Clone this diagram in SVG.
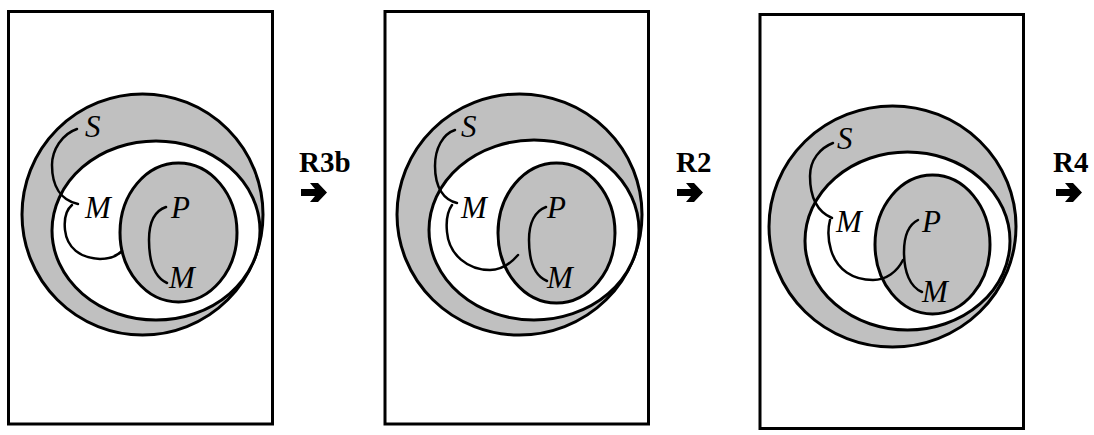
<svg xmlns="http://www.w3.org/2000/svg" width="1094" height="435" viewBox="0 0 1094 435">
<style>
.frame{fill:#fff;stroke:#000;stroke-width:3}
.g{fill:#c0c0c0;stroke:#000;stroke-width:3}
.w{fill:#fff;stroke:#000;stroke-width:3}
.c{fill:none;stroke:#000;stroke-width:2.5;stroke-linecap:round}
.lbl{font-style:italic;font-size:31px;fill:#000}
.rule{font-weight:bold;font-size:29px;fill:#000}
.arr{fill:#000}
</style>
<rect width="1094" height="435" fill="#fff"/>
<g id="panel1" font-family="'Liberation Serif', 'Times New Roman', Times, serif">
<rect class="frame" x="8.5" y="11.5" width="264" height="412.5"/>
<ellipse class="g" cx="142.5" cy="214.5" rx="120.5" ry="120.5"/>
<ellipse class="w" cx="156" cy="230.5" rx="104" ry="89.5"/>
<ellipse class="g" cx="178.5" cy="232.5" rx="58.5" ry="69.5"/>
<path class="c" d="M77,129 C62,134 52,150 52,165 C52,185 60,200 78,204"/>
<path class="c" d="M72,205 C66,210 64,220 65,230 C67,248 80,258 100,259 C110,259 117,256 122,251"/>
<path class="c" d="M166,207 C154,211 149,222 149,240 C149,262 154,277 167,283"/>
<text class="lbl" x="85" y="137">S</text>
<text class="lbl" x="85" y="218">M</text>
<text class="lbl" x="171" y="218">P</text>
<text class="lbl" x="169" y="288">M</text>
</g>
<g id="panel2" font-family="'Liberation Serif', 'Times New Roman', Times, serif">
<rect class="frame" x="385" y="11.5" width="263.5" height="412.5"/>
<ellipse class="g" cx="519.5" cy="214.5" rx="122.5" ry="120.5"/>
<ellipse class="w" cx="534" cy="230" rx="105" ry="90"/>
<ellipse class="g" cx="556.5" cy="233" rx="58.5" ry="70"/>
<path class="c" d="M455,130 C443,134 435,148 435,166 C435,188 444,200 457,203"/>
<path class="c" d="M452,205 C447,212 446,222 447,232 C449,255 468,270 490,270 C503,270 512,262 518,255"/>
<path class="c" d="M546,207 C535,211 529,223 529,240 C529,262 535,276 547,281"/>
<text class="lbl" x="461" y="137">S</text>
<text class="lbl" x="461" y="218">M</text>
<text class="lbl" x="547" y="218">P</text>
<text class="lbl" x="547" y="288">M</text>
</g>
<g id="panel3" font-family="'Liberation Serif', 'Times New Roman', Times, serif">
<rect class="frame" x="760" y="14.5" width="263.5" height="414"/>
<ellipse class="g" cx="892.5" cy="226.5" rx="123.5" ry="120.5"/>
<ellipse class="w" cx="907.5" cy="241" rx="102.5" ry="89"/>
<ellipse class="g" cx="932.5" cy="244.5" rx="57.5" ry="69.5"/>
<path class="c" d="M833,143 C820,148 810,160 810,176 C810,198 818,212 832,218"/>
<path class="c" d="M830,220 C828,228 828,240 831,250 C837,270 853,280 873,280 C886,280 897,272 903,260"/>
<path class="c" d="M918,220 C908,225 904,237 904,252 C904,272 910,287 922,292"/>
<text class="lbl" x="837" y="149">S</text>
<text class="lbl" x="836" y="232">M</text>
<text class="lbl" x="922" y="232">P</text>
<text class="lbl" x="922" y="302">M</text>
</g>
<g id="connectors" font-family="'Liberation Serif', 'Times New Roman', Times, serif">
<text class="rule" x="299" y="172">R3b</text>
<path class="arr" d="M301,189 L315,189 L310,183 L318,183 L327,192.5 L318,202 L310,202 L315,196 L301,196 Z"/>
<text class="rule" x="676" y="172">R2</text>
<path class="arr" transform="translate(376,0)" d="M301,189 L315,189 L310,183 L318,183 L327,192.5 L318,202 L310,202 L315,196 L301,196 Z"/>
<text class="rule" x="1053" y="172">R4</text>
<path class="arr" transform="translate(755,0)" d="M301,189 L315,189 L310,183 L318,183 L327,192.5 L318,202 L310,202 L315,196 L301,196 Z"/>
</g>
</svg>
